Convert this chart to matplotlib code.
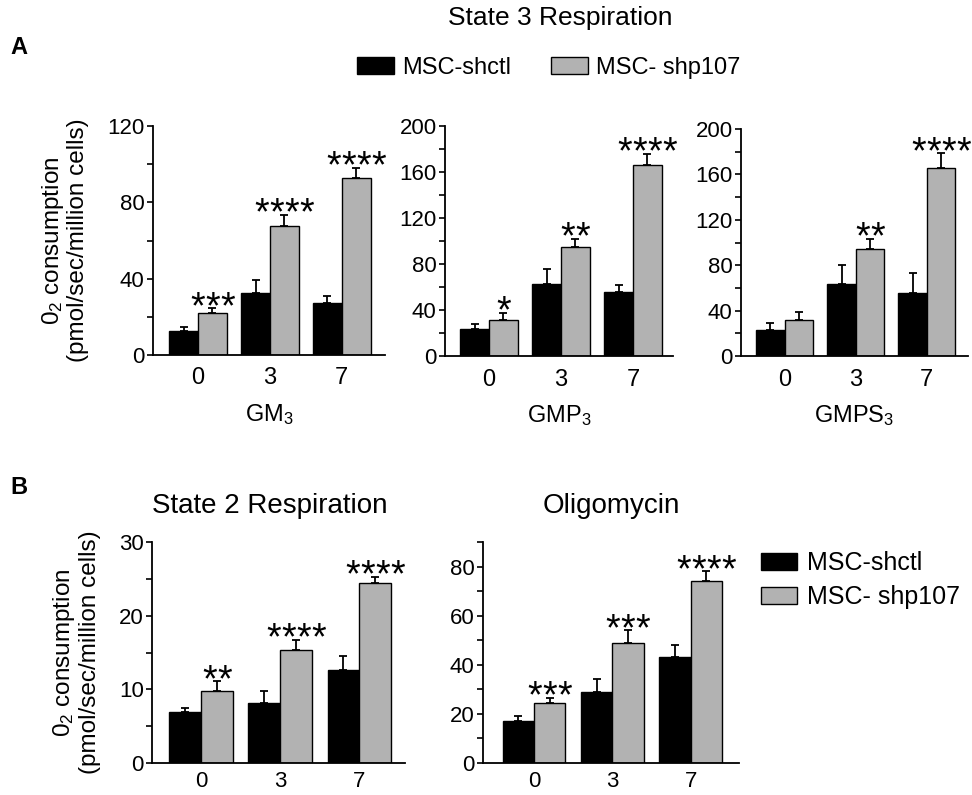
import numpy as np
import matplotlib
matplotlib.use("Agg")
import matplotlib.pyplot as plt
from matplotlib.patches import Patch

plt.rcParams['font.family'] = ['Liberation Sans', 'DejaVu Sans']
plt.rcParams['mathtext.fontset'] = 'custom'
plt.rcParams['mathtext.rm'] = 'Liberation Sans'
plt.rcParams['mathtext.it'] = 'Liberation Sans:italic'

## data
days = ['0', '3', '7']
series = ['MSC-shctl', 'MSC- shp107']

# State 3 respiration, GM3
gm_ctl = [12.5, 32.5, 27]
gm_ctl_err = [2.3, 7.0, 4.0]
gm_kd = [22, 67.5, 93]
gm_kd_err = [2.4, 6.0, 5.2]
gm_stars = [3, 4, 4]

# GMP3
gmp_ctl = [23.5, 63, 55.5]
gmp_ctl_err = [4.0, 13.0, 6.5]
gmp_kd = [31, 94.5, 166]
gmp_kd_err = [6.5, 7.5, 10.0]
gmp_stars = [1, 2, 4]

# GMPS3
gmps_ctl = [23, 63.5, 55.5]
gmps_ctl_err = [6.0, 16.5, 17.5]
gmps_kd = [31.5, 94.5, 165.5]
gmps_kd_err = [7.0, 9.0, 13.0]
gmps_stars = [0, 2, 4]

# State 2 respiration
s2_ctl = [6.9, 8.1, 12.6]
s2_ctl_err = [0.5, 1.7, 1.9]
s2_kd = [9.8, 15.3, 24.5]
s2_kd_err = [1.3, 1.4, 0.8]
s2_stars = [2, 4, 4]

# Oligomycin
oli_ctl = [17, 29, 43]
oli_ctl_err = [2.0, 5.3, 5.0]
oli_kd = [24.5, 49, 74]
oli_kd_err = [2.0, 5.0, 4.0]
oli_stars = [3, 3, 4]

GRAY = '#b2b2b2'
W, H = 972, 795

fig = plt.figure(figsize=(W / 100, H / 100), dpi=100)


def box(l, r, t, b):
    # pixel box -> figure fraction
    return [l / W, 1 - b / H, (r - l) / W, (b - t) / H]


def panel(rect, ctl, ctl_err, kd, kd_err, stars, ymax, major, minor, xlim, xlabel=None, ylabel=False, pitch=10.8):
    ax = fig.add_axes(rect)
    x = np.arange(len(days))
    w = 0.4
    ax.bar(x - w / 2, ctl, w, color='black', edgecolor='black', linewidth=1)
    ax.bar(x + w / 2, kd, w, color=GRAY, edgecolor='black', linewidth=1)
    ax.errorbar(x - w / 2, ctl, yerr=[np.zeros(3), ctl_err], fmt='none', ecolor='black',
                elinewidth=1.3, capsize=3, capthick=1.3)
    ax.errorbar(x + w / 2, kd, yerr=[np.zeros(3), kd_err], fmt='none', ecolor='black',
                elinewidth=1.3, capsize=3, capthick=1.3)
    # significance stars, one text per star so they can be spaced like the original
    for i, n in enumerate(stars):
        for k in range(n):
            dx = (k - (n - 1) / 2) * pitch
            ax.annotate('*', xy=(x[i] + w / 2, kd[i] + kd_err[i]), xytext=(dx, -7),
                        textcoords='offset points', ha='center', va='baseline', fontsize=27)
    ax.set_xlim(*xlim)
    ax.set_ylim(0, ymax)
    ax.set_yticks(major)
    ax.set_yticks(minor, minor=True)
    ax.set_xticks(x)
    ax.set_xticklabels(days, fontsize=17)
    ax.tick_params(axis='x', length=0, pad=9)
    ax.tick_params(axis='y', which='both', direction='out', length=4, width=1.2, labelsize=16, pad=2)
    for side in ['top', 'right']:
        ax.spines[side].set_visible(False)
    for side in ['left', 'bottom']:
        ax.spines[side].set_linewidth(1.3)
    if xlabel:
        ax.set_xlabel(xlabel, fontsize=17, labelpad=9)
    if ylabel:
        ax.set_ylabel('0$_\\mathregular{2}$ consumption\n(pmol/sec/million cells)', fontsize=17.5,
                      labelpad=13, linespacing=1.1)
    return ax


panel(box(153, 385, 126, 355), gm_ctl, gm_ctl_err, gm_kd, gm_kd_err, gm_stars,
      120, [0, 40, 80, 120], [20, 60, 100], (-0.625, 2.6), 'GM$_\\mathregular{3}$', True)
panel(box(445, 673, 126, 356), gmp_ctl, gmp_ctl_err, gmp_kd, gmp_kd_err, gmp_stars,
      200, [0, 40, 80, 120, 160, 200], [20, 60, 100, 140, 180], (-0.61, 2.556), 'GMP$_\\mathregular{3}$')
panel(box(741, 968, 129, 356), gmps_ctl, gmps_ctl_err, gmps_kd, gmps_kd_err, gmps_stars,
      200, [0, 40, 80, 120, 160, 200], [20, 60, 100, 140, 180], (-0.615, 2.58), 'GMPS$_\\mathregular{3}$')
axb1 = panel(box(152, 405, 542, 763), s2_ctl, s2_ctl_err, s2_kd, s2_kd_err, s2_stars,
             30, [0, 10, 20, 30], [5, 15, 25], (-0.62, 2.58), None, True)
axb2 = panel(box(483, 739, 542, 763), oli_ctl, oli_ctl_err, oli_kd, oli_kd_err, oli_stars,
             90, [0, 20, 40, 60, 80], [10, 30, 50, 70, 90], (-0.65, 2.615))
for ax in [axb1, axb2]:
    ax.tick_params(axis='x', pad=6, labelsize=16)

# panel letters and titles
fig.text(10 / W, 1 - 47 / H, 'A', fontsize=17, fontweight='bold', va='center')
fig.text(10 / W, 1 - 488 / H, 'B', fontsize=17, fontweight='bold', va='center')
fig.text(560 / W, 1 - 18 / H, 'State 3 Respiration', fontsize=19, ha='center', va='center')
fig.text(270 / W, 1 - 513 / H, 'State 2 Respiration', fontsize=20, ha='center', va='baseline')
fig.text(611 / W, 1 - 513 / H, 'Oligomycin', fontsize=20, ha='center', va='baseline')

handles = [Patch(facecolor='black', edgecolor='black'),
           Patch(facecolor=GRAY, edgecolor='black')]
fig.legend(handles, series, loc='center left', bbox_to_anchor=(357 / W, 1 - 68 / H), ncol=2,
           frameon=False, fontsize=17, handlelength=1.57, handleheight=0.76, handletextpad=0.34,
           columnspacing=1.7, borderpad=0, borderaxespad=0)
fig.legend(handles, series, loc='center left', bbox_to_anchor=(761 / W, 1 - 580 / H), ncol=1,
           frameon=False, fontsize=18, handlelength=1.45, handleheight=0.7, handletextpad=0.4,
           labelspacing=0.4, borderpad=0, borderaxespad=0)

plt.savefig('out.png', dpi=100)
